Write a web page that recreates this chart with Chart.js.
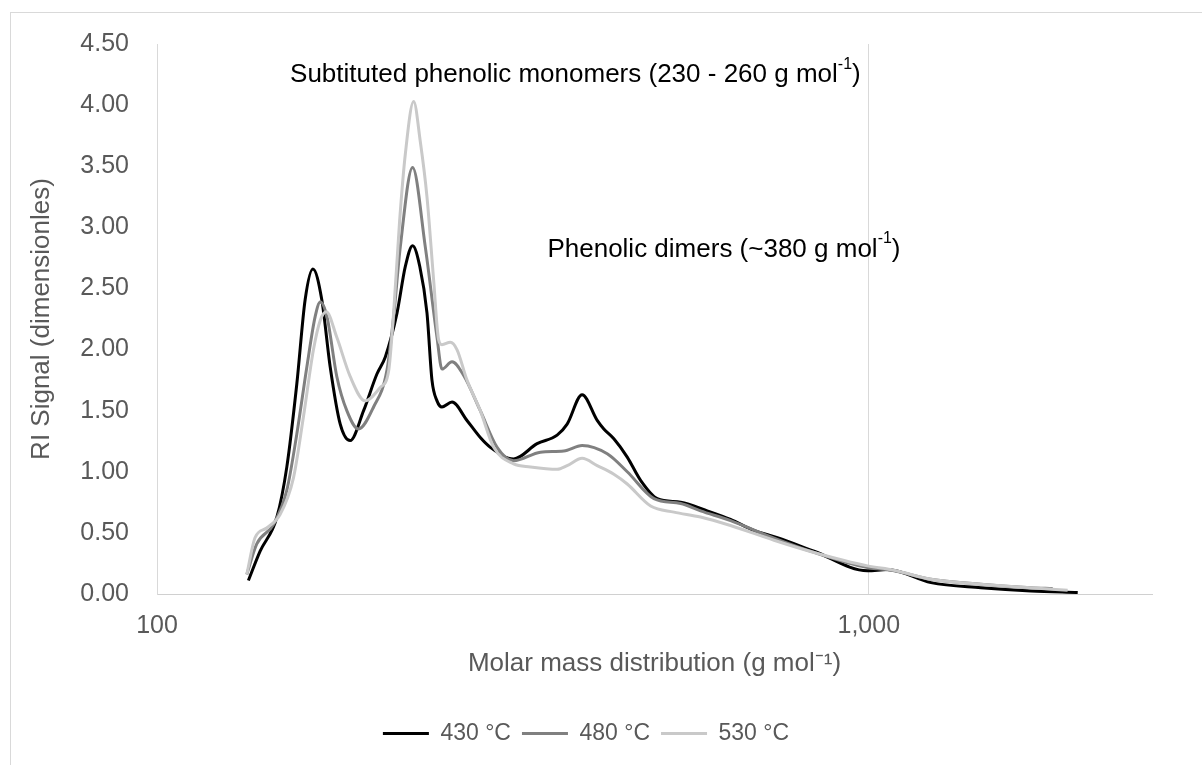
<!DOCTYPE html>
<html>
<head>
<meta charset="utf-8">
<script src="https://cdn.jsdelivr.net/npm/chart.js@4.4.1/dist/chart.umd.min.js"></script>
<style>
  body { margin: 0; background: #ffffff; }
  #frame { position: absolute; left: 10px; top: 12px; width: 1300px; height: 900px; border: 1px solid #d9d9d9; }
  #chart { position: absolute; left: 0; top: 0; }
</style>
</head>
<body>
<div id="frame"></div>
<canvas id="chart" width="1202" height="765"></canvas>
<script>
// Molar mass (g/mol) and RI signal
const mass_430 = [134.4, 139.6, 147.4, 152.2, 157.2, 161.5, 165.6, 170.4, 175.1, 180.9, 186.8, 195.1, 203.7, 209.3, 217.4, 223.3, 228.6, 234.0, 239.5, 243.4, 247.4, 251.4, 259.7, 272.6, 284.6, 294.0, 317.0, 342.0, 364.9, 376.9, 395.6, 415.4, 424.4, 438.4, 457.8, 478.0, 504.6, 544.2, 593.0, 639.4, 689.9, 744.1, 837.8, 995.8, 1062.5, 1222.9, 1437, 1690, 1966]
const signal_430 = [0.11, 0.35, 0.63, 1.04, 1.72, 2.41, 2.66, 2.41, 1.86, 1.39, 1.255, 1.50, 1.80, 1.94, 2.30, 2.68, 2.85, 2.68, 2.30, 1.75, 1.58, 1.53, 1.57, 1.42, 1.28, 1.20, 1.105, 1.23, 1.30, 1.39, 1.63, 1.42, 1.35, 1.27, 1.12, 0.93, 0.78, 0.75, 0.68, 0.61, 0.52, 0.46, 0.35, 0.19, 0.20, 0.093, 0.052, 0.025, 0.012]

const mass_480 = [133.7, 138.1, 145.8, 152.2, 157.2, 162.4, 166.8, 169.6, 173.3, 178.9, 184.8, 191.9, 201.5, 210.4, 215.0, 219.7, 228.6, 238.2, 247.4, 251.4, 259.7, 269.6, 284.6, 300.5, 317.0, 345.7, 372.8, 395.6, 429.1, 457.8, 499.1, 544.2, 580.3, 639.4, 736.0, 837.8, 995.8, 1085.4, 1222.9, 1437, 1690, 1813]
const signal_480 = [0.16, 0.41, 0.57, 0.85, 1.31, 1.86, 2.27, 2.39, 2.27, 1.78, 1.50, 1.35, 1.53, 1.83, 2.27, 2.84, 3.49, 2.84, 2.10, 1.84, 1.90, 1.79, 1.50, 1.20, 1.09, 1.16, 1.17, 1.215, 1.147, 1.00, 0.78, 0.74, 0.68, 0.60, 0.457, 0.34, 0.216, 0.19, 0.12, 0.08, 0.052, 0.045]

const mass_530 = [133.7, 137.3, 142.6, 148.9, 155.5, 160.6, 165.9, 169.6, 172.9, 178.9, 186.8, 196.1, 205.9, 211.5, 215.0, 219.2, 223.3, 229.4, 234.4, 239.5, 244.7, 248.7, 251.4, 258.3, 263.9, 272.6, 284.6, 297.2, 317.0, 334.7, 364.9, 376.9, 395.6, 415.4, 438.4, 457.8, 493.8, 532.5, 580.3, 639.4, 736.0, 837.8, 995.8, 1085.4, 1222.9, 1437, 1690, 1903]
const signal_530 = [0.16, 0.46, 0.54, 0.65, 0.95, 1.45, 2.00, 2.24, 2.31, 2.10, 1.78, 1.58, 1.69, 1.82, 2.30, 3.05, 3.60, 4.03, 3.70, 3.25, 2.57, 2.08, 2.04, 2.06, 2.00, 1.75, 1.50, 1.20, 1.065, 1.04, 1.02, 1.05, 1.11, 1.05, 0.98, 0.90, 0.72, 0.67, 0.63, 0.56, 0.44, 0.34, 0.23, 0.195, 0.12, 0.08, 0.052, 0.03]

const series_labels = ['430 \u00B0C', '480 \u00B0C', '530 \u00B0C']
const series_colors = ['#000000', '#808080', '#c9c9c9']
const x_ticks = [100, 1000]

// peak annotations: text, superscript, anchor (mass, signal)
const note_text = ['Subtituted phenolic monomers (230 - 260 g mol', 'Phenolic dimers (~380 g mol']
const note_mass = [153.8, 353.6]
const note_signal = [4.245, 2.82]

const font_family = '"Liberation Sans", Arial, sans-serif'
const grey_text = '#595959'

function toPoints(xs, ys) {
    return xs.map((x, i) => ({ x: x, y: ys[i] }))
}

const notes_plugin = {
    id: 'notes',
    afterDatasetsDraw(chart) {
        const ctx = chart.ctx
        const xs = chart.scales.x
        const ys = chart.scales.y
        ctx.save()
        ctx.fillStyle = '#000000'
        ctx.textBaseline = 'middle'
        ctx.textAlign = 'left'
        for (var i = 0; i < note_text.length; i++) {
            var px = xs.getPixelForValue(note_mass[i])
            var py = ys.getPixelForValue(note_signal[i])
            ctx.font = '26px ' + font_family
            ctx.fillText(note_text[i], px, py)
            px += ctx.measureText(note_text[i]).width
            ctx.font = '16px ' + font_family
            ctx.fillText('-1', px, py - 11)
            px += ctx.measureText('-1').width
            ctx.font = '26px ' + font_family
            ctx.fillText(')', px, py)
        }
        ctx.restore()
    }
}

var chart = new Chart('chart', {
    type: 'line',
    data: {
        datasets: [{
            label: series_labels[0],
            data: toPoints(mass_430, signal_430),
            borderColor: series_colors[0],
            backgroundColor: series_colors[0],
            order: 3
        }, {
            label: series_labels[1],
            data: toPoints(mass_480, signal_480),
            borderColor: series_colors[1],
            backgroundColor: series_colors[1],
            order: 2
        }, {
            label: series_labels[2],
            data: toPoints(mass_530, signal_530),
            borderColor: series_colors[2],
            backgroundColor: series_colors[2],
            order: 1
        }]
    },
    options: {
        responsive: false,
        animation: false,
        layout: { padding: { left: 20, right: 50, top: 44, bottom: 10 } },
        elements: {
            line: { borderWidth: 3, cubicInterpolationMode: 'monotone', fill: false },
            point: { radius: 0, hoverRadius: 0 }
        },
        scales: {
            x: {
                type: 'logarithmic',
                min: 100,
                max: 2500,
                afterBuildTicks: (scale) => { scale.ticks = x_ticks.map(v => ({ value: v })) },
                afterFit: (scale) => { scale.height = 117 },
                ticks: {
                    color: grey_text,
                    font: { family: font_family, size: 25 },
                    padding: 17,
                    maxRotation: 0,
                    callback: (v) => v.toLocaleString('en-US')
                },
                grid: { color: '#d9d9d9', drawTicks: false },
                border: { color: '#d0d0d0', width: 1 },
                title: {
                    display: true,
                    text: 'Molar mass distribution (g mol\u207B\u00B9)',
                    color: grey_text,
                    font: { family: font_family, size: 26 },
                    padding: { top: 4, bottom: 32 }
                }
            },
            y: {
                min: 0,
                max: 4.5,
                afterFit: (scale) => { scale.width = 137 },
                ticks: {
                    stepSize: 0.5,
                    color: grey_text,
                    font: { family: font_family, size: 25 },
                    padding: 20,
                    callback: (v) => v.toFixed(2)
                },
                grid: { display: false },
                border: { display: true, color: '#d9d9d9', width: 1 },
                title: {
                    display: true,
                    text: 'RI Signal (dimensionles)',
                    color: grey_text,
                    font: { family: font_family, size: 26 },
                    padding: { top: 6, bottom: 4 }
                }
            }
        },
        plugins: {
            legend: {
                position: 'bottom',
                labels: {
                    color: grey_text,
                    font: { family: font_family, size: 23 },
                    boxWidth: 46,
                    boxHeight: 3,
                    padding: 11,
                    sort: (a, b) => a.datasetIndex - b.datasetIndex,
                    generateLabels: (c) => Chart.defaults.plugins.legend.labels.generateLabels(c).map(item => {
                        item.lineWidth = 0
                        item.fillStyle = item.strokeStyle
                        return item
                    })
                }
            },
            tooltip: { enabled: false }
        }
    },
    plugins: [notes_plugin]
});
</script>
</body>
</html>
